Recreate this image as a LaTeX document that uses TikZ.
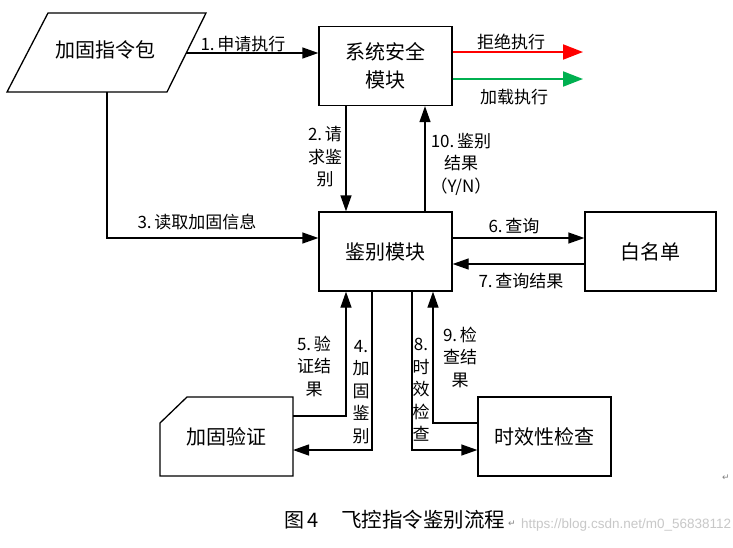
\documentclass[tikz,border=0pt]{standalone}
\usepackage{fontspec}
\setmainfont{Liberation Serif}
\newfontfamily\cjk{Noto Sans CJK SC}
\newfontfamily\wmfont{Liberation Sans}
\newfontfamily\symfont{DejaVu Sans}
\usetikzlibrary{arrows.meta}
\definecolor{wordgreen}{RGB}{0,176,80}
\definecolor{wmgray}{RGB}{200,200,200}
\tikzset{
  box/.style={draw, line width=1.3pt, minimum width=133pt, minimum height=79pt, inner sep=0pt, align=center, font=\cjk\fontsize{20}{28}\selectfont},
  boxtext/.style={align=center, inner sep=0pt, font=\cjk\fontsize{20}{28}\selectfont},
  conn/.style={line width=1.3pt, -{Triangle[length=16pt,width=11pt]}},
  lbl/.style={align=center, inner sep=0pt, font=\cjk\fontsize{17}{22.5}\selectfont},
  colarrow/.style={line width=2pt, -{Triangle[length=20pt,width=15pt]}}
}
\begin{document}
\begin{tikzpicture}[x=1pt,y=-1pt]
\useasboundingbox[fill=white] (0,0) rectangle (733,547);

% parallelogram
\draw[line width=1.3pt] (48,13) -- (206,13) -- (167,92) -- (7,92) -- cycle;
\node[boxtext] (pkg) at (105,50) {加固指令包};
\coordinate (pkgR) at (186,53);
\coordinate (pkgB) at (107,92);

% boxes
\node[box] (sys) at (385.5,66) {系统安全\\模块};
\node[box] (jb) at (385.5,251.5) {鉴别模块};
\node[box, minimum width=131pt] (wl) at (650.5,251.5) {白名单};
\node[box] (sx) at (544.5,436.5) {时效性检查};

% card shape
\draw[line width=1.3pt] (187,397) -- (293,397) -- (293,476) -- (160,476) -- (160,423) -- cycle;
\node[boxtext] (jy) at (226,437) {加固验证};
\coordinate (jyR) at (293,436);

% free ends of coloured arrows
\coordinate (redEnd) at (583,52);
\coordinate (greenEnd) at (583,79);

% 1
\draw[conn] (pkgR) -- (sys.west |- pkgR);
\node[lbl] (l1) at (243,44) {1.\,申请执行};
% red / green
\draw[colarrow, red] (sys.east |- redEnd) -- (redEnd);
\node[lbl] (lr) at (511,42) {拒绝执行};
\draw[colarrow, wordgreen] (sys.east |- greenEnd) -- (greenEnd);
\node[lbl] (lg) at (514,97) {加载执行};
% 2
\coordinate (c2) at (346,0);
\draw[conn] (sys.south -| c2) -- (jb.north -| c2);
\node[lbl] (l2) at (325,157) {2.\,请\\求鉴\\别};
% 10
\coordinate (c10) at (425,0);
\draw[conn] (jb.north -| c10) -- (sys.south -| c10);
\node[lbl] (l10) at (461,164) {10.\,鉴别\\结果\\（Y/N）};
% 3
\coordinate (c3) at (0,238);
\draw[conn] (pkgB) -- (pkgB |- c3) -- (jb.west |- c3);
\node[lbl] (l3) at (197,222) {3.\,读取加固信息};
% 6
\draw[conn] (jb.east |- c3) -- (wl.west |- c3);
\node[lbl] (l6) at (514,226) {6.\,查询};
% 7
\coordinate (c7) at (0,264);
\draw[conn] (wl.west |- c7) -- (jb.east |- c7);
\node[lbl] (l7) at (521,281) {7.\,查询结果};
% 5
\coordinate (c5) at (346,416);
\draw[conn] (jyR |- c5) -- (c5) -- (jb.south -| c5);
\node[lbl] (l5) at (314,366) {5.\,验\\证结\\果};
% 4
\coordinate (c4) at (372,450);
\draw[conn] (jb.south -| c4) -- (c4) -- (jyR |- c4);
\node[lbl] (l4) at (361,392) {4.\\加\\固\\鉴\\别};
% 8
\coordinate (c8) at (412,450);
\draw[conn] (jb.south -| c8) -- (c8) -- (sx.west |- c8);
\node[lbl] (l8) at (421,390) {8.\\时\\效\\检\\查};
% 9
\coordinate (c9) at (433,423);
\draw[conn] (sx.west |- c9) -- (c9) -- (jb.south -| c9);
\node[lbl] (l9) at (460,357) {9.\,检\\查结\\果};

% caption
\node[anchor=west, inner sep=0pt, font=\cjk\fontsize{20}{22}\selectfont] (cap1) at (284,520) {图\,4};
\node[anchor=west, inner sep=0pt, font=\cjk\fontsize{20.5}{22}\selectfont] (cap2) at (341,520) {飞控指令鉴别流程};
\node[anchor=west, inner sep=0pt, font=\symfont\fontsize{9}{10}\selectfont, text=gray] (ret1) at (508,524) {↵};
\node[inner sep=0pt, font=\symfont\fontsize{9}{10}\selectfont, text=gray] (ret2) at (726,478) {↵};
\node[anchor=west, inner sep=0pt, font=\wmfont\fontsize{13.5}{16}\selectfont, text=wmgray] (wm) at (521,525) {https://blog.csdn.net/m0\_56838112};
\end{tikzpicture}
\end{document}
